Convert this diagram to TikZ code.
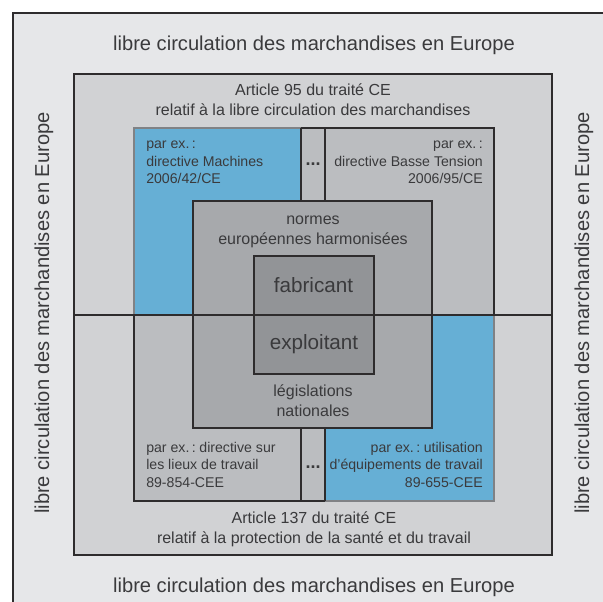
\documentclass[tikz,border=0pt]{standalone}
\usepackage{fontspec}
\setmainfont{Liberation Sans}
\usetikzlibrary{calc}
\definecolor{txt}{HTML}{3A3A3C}
\definecolor{outerbg}{HTML}{E6E7E9}
\definecolor{artbg}{HTML}{D1D2D4}
\definecolor{dirbg}{HTML}{BBBDC0}
\definecolor{blueb}{HTML}{66AFD5}
\definecolor{normbg}{HTML}{A7A9AC}
\definecolor{corebg}{HTML}{929497}
\definecolor{lin}{HTML}{2E2C2D}
\definecolor{blueedge}{HTML}{808285}
\newcommand{\parex}{par ex.\kern1.8pt:\kern2.7pt\ignorespaces}
\tikzset{
  x=0.75pt,y=-0.75pt,
  boxline/.style={draw=lin,line width=0.8pt},
  lbl/.style={text=txt,inner sep=0pt,align=center},
  big/.style={lbl,font=\fontsize{15.1}{18}\selectfont},
  mid/.style={lbl,font=\fontsize{12}{15}\selectfont},
  sm/.style={lbl,font=\fontsize{10.6}{13.3}\selectfont},
  core/.style={lbl,font=\fontsize{15.5}{18}\selectfont},
  dots/.style={lbl,font=\bfseries\fontsize{13.5}{14}\selectfont},
}
\begin{document}
\begin{tikzpicture}
\useasboundingbox (0,0) rectangle (603,602);
\fill[white] (0,0) rectangle (603,602);
\fill[outerbg] (13,13) rectangle (603,602);
\draw[boxline] (13,602) coordinate (oa) -- (13,13) coordinate (ob) -- (603,13) coordinate (oc);
% article boxes
\fill[artbg] (74,74) rectangle (552,555);
% directive areas
\fill[dirbg] (134,128) rectangle (494,501);
\fill[blueb] (134,128) rectangle (301,315);
\fill[blueb] (325,315) rectangle (494,501);
\draw[blueedge,line width=0.8pt] (134,315) -- (134,128) -- (301,128);
\draw[blueedge,line width=0.8pt] (494,315) -- (494,501) -- (325,501);
\draw[boxline] (301,128) -- (494,128) -- (494,315);
\draw[boxline] (325,128) -- (325,201);
\draw[boxline] (301,128) -- (301,201);
\draw[boxline] (134,315) -- (134,501) -- (325,501);
\draw[boxline] (301,428) -- (301,501);
\draw[boxline] (325,428) -- (325,501);
\draw[boxline] (74,74) rectangle (552,555);
% harmonised
\draw[boxline,fill=normbg] (193,201) rectangle (432,428);
\draw[boxline,fill=corebg] (254,256) rectangle (374,374);
\draw[boxline] (74,315) -- (552,315);
% outer text
\node[big] (t1) at (314,45) {libre circulation des marchandises en Europe};
\node[big] (t2) at (314,587) {libre circulation des marchandises en Europe};
\node[big,rotate=90] (t3) at (44,313) {libre circulation des marchandises en Europe};
\node[big,rotate=90] (t4) at (584,313) {libre circulation des marchandises en Europe};
% article text
\node[mid] (a1) at (313,99.5) {Article 95 du traité CE\\relatif à la libre circulation des marchandises};
\node[mid] (a2) at (314,529.5) {Article 137 du traité CE\\relatif à la protection de la santé et du travail};
% directives
\node[sm,align=left,anchor=north west] (d1) at (146,140.5) {\parex\\directive Machines\\2006/42/CE};
\node[sm,align=right,anchor=north east] (d2) at (483,140.5) {par ex.\kern1.8pt:\\directive Basse Tension\\2006/95/CE};
\node[sm,align=left,anchor=north west] (d3) at (146,441.5) {\parex directive sur\\les lieux de travail\\89-854-CEE};
\node[sm,align=right,anchor=north east] (d4) at (483,441.5) {\parex utilisation\\d’équipements de travail\\89-655-CEE};
\node[dots] (e1) at (313,164) {...};
\node[dots] (e2) at (313,467) {...};
% norms
\node[mid] (n1) at (313,232) {normes\\européennes harmonisées};
\node[mid] (n2) at (313,401) {législations\\nationales};
\node[core] (c1) at (313.5,285) {fabricant};
\node[core] (c2) at (314,344) {exploitant};
\end{tikzpicture}
\end{document}
